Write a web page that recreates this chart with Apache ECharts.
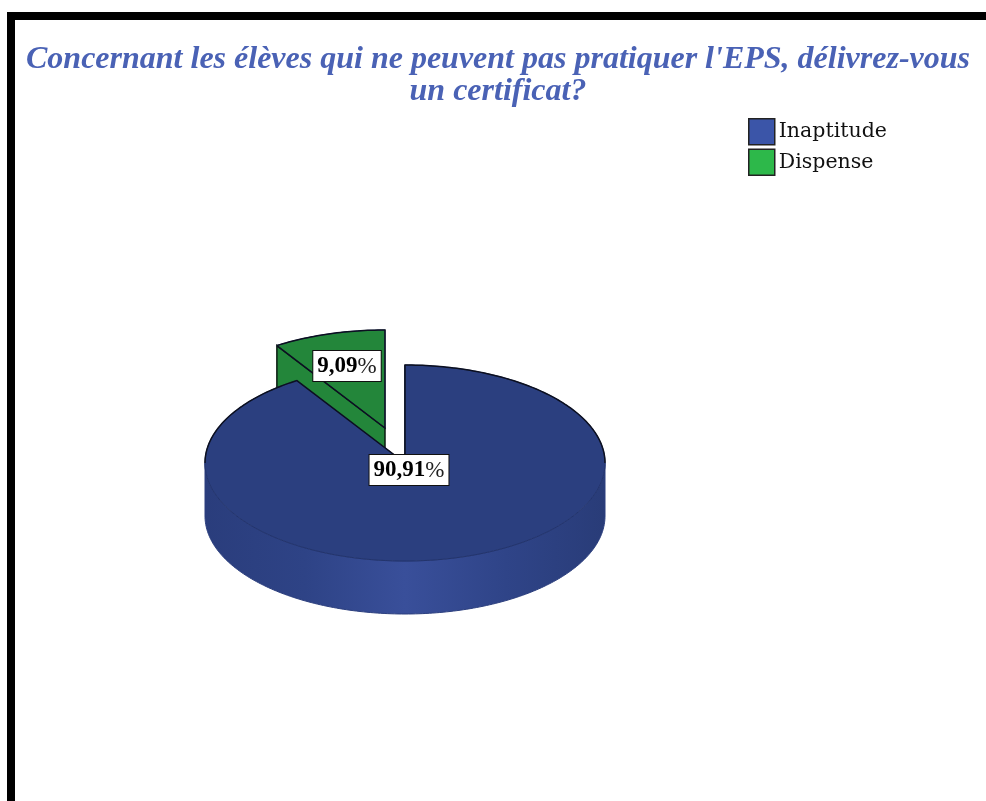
<!DOCTYPE html>
<html>
<head>
<meta charset="utf-8">
<title>Certificat EPS</title>
<script src="https://cdn.jsdelivr.net/npm/echarts@6/dist/echarts.min.js"></script>
<style>
	html, body { margin: 0; padding: 0; background: #fff; }
	#chart { width: 986px; height: 801px; }
</style>
</head>
<body>
<div id="chart"></div>
<script>
const titleLines = ["Concernant les élèves qui ne peuvent pas pratiquer l'EPS, délivrez-vous", "un certificat?"];
const categories = ["Inaptitude", "Dispense"];
const percents = [90.91, 9.09];

const legendColors = ["#3b55a8", "#2db84a"];
const topColors = ["#2b3f7f", "#23863a"];
// how far each slice is pulled out of the pie
const sliceShift = [[0, 0], [-20, -35]];
const labelPos = [[409, 470], [347, 366]];

const CX = 405, CY = 463, RX = 200, RY = 98, DEPTH = 53;
const SERIF = '"Liberation Serif", serif';

const total = percents.reduce((a, b) => a + b, 0);

// angle in degrees, clockwise from 12 o'clock
function pt(deg, sx, sy, drop) {
	const r = deg * Math.PI / 180;
	return [CX + sx + RX * Math.sin(r), CY + sy - RY * Math.cos(r) + (drop || 0)];
}

function arc(from, to, sx, sy, drop) {
	const pts = [];
	const steps = Math.max(2, Math.ceil(Math.abs(to - from)));
	for (let i = 0; i <= steps; i++) {
		pts.push(pt(from + (to - from) * i / steps, sx, sy, drop));
	}
	return pts;
}

function renderSlice(idx) {
	return function (params, api) {
		const val = api.value(0);
		let before = 0;
		for (let i = 0; i < idx; i++) before += percents[i];
		const start = before / total * 360;
		const end = start + val / total * 360;
		const [sx, sy] = sliceShift[idx];
		const apex = [CX + sx, CY + sy];
		const children = [];

		// outer wall, only the front half can be seen
		const f0 = Math.max(start, 90), f1 = Math.min(end, 270);
		if (f1 > f0) {
			children.push({
				type: "polygon",
				shape: { points: arc(f0, f1, sx, sy, 0).concat(arc(f1, f0, sx, sy, DEPTH)) },
				style: {
					fill: new echarts.graphic.LinearGradient(0, 0, 1, 0, [
						{ offset: 0, color: "#2a3d7c" },
						{ offset: 0.25, color: "#2e4386" },
						{ offset: 0.5, color: "#394f9a" },
						{ offset: 0.75, color: "#2f4488" },
						{ offset: 1, color: "#293c78" },
					]),
					stroke: "#2c3f7e",
					lineWidth: 1,
				},
			});
		}
		// cut face at the start edge
		const edge = pt(start, sx, sy, 0);
		children.push({
			type: "polygon",
			shape: { points: [apex, edge, [edge[0], edge[1] + DEPTH], [apex[0], apex[1] + DEPTH]] },
			style: { fill: topColors[idx], stroke: "#0a1a10", lineWidth: 1.5 },
		});
		// top face, the front rim is faint
		children.push({
			type: "polygon",
			shape: { points: [apex].concat(arc(start, end, sx, sy, 0)) },
			style: { fill: topColors[idx], stroke: "#23346c", lineWidth: 1 },
		});
		// dark outline on the back rim and the cut edges
		const back = arc(Math.max(270, start), end, sx, sy, 0).concat([apex]);
		children.push({
			type: "polyline",
			shape: { points: back.concat(start < 90 ? arc(start, 90, sx, sy, 0) : [edge]) },
			style: { fill: null, stroke: "#0c1020", lineWidth: 1.5 },
		});
		// value label
		children.push({
			type: "text",
			z2: 10,
			x: labelPos[idx][0],
			y: labelPos[idx][1],
			style: {
				text: "{b|" + val.toFixed(2).replace(".", ",") + "}{n|%}",
				align: "center",
				verticalAlign: "middle",
				backgroundColor: "#fff",
				borderColor: "#111",
				borderWidth: 1,
				padding: [4, 4, 3, 4],
				rich: {
					b: { font: "bold 23px " + SERIF, fill: "#000" },
					n: { font: "23px " + SERIF, fill: "#222" },
				},
			},
		});
		return { type: "group", children };
	};
}

const chart = echarts.init(document.getElementById("chart"), null, { renderer: "canvas" });
chart.setOption({
	animation: false,
	backgroundColor: "#fff",
	title: {
		text: titleLines.join("\n"),
		left: 493,
		top: 39,
		textAlign: "center",
		textStyle: {
			fontFamily: SERIF,
			fontStyle: "italic",
			fontWeight: "bold",
			fontSize: 32,
			lineHeight: 32,
			color: "#4a62b5",
		},
	},
	legend: {
		data: categories,
		orient: "vertical",
		left: 748,
		top: 118,
		padding: 0,
		itemWidth: 26,
		itemHeight: 26,
		itemGap: 3,
		icon: "rect",
		selectedMode: false,
		itemStyle: { borderColor: "#222", borderWidth: 1.5 },
		textStyle: { fontFamily: '"DejaVu Serif", serif', fontSize: 20.5, color: "#111", padding: [5, 0, 0, -1] },
	},
	graphic: [
		// black frame, runs off the right and bottom of the picture
		{ type: "rect", shape: { x: 7, y: 12, width: 979, height: 8 }, style: { fill: "#000" } },
		{ type: "rect", shape: { x: 7, y: 12, width: 8, height: 789 }, style: { fill: "#000" } },
	],
	series: categories.map((name, i) => ({
		type: "custom",
		name,
		z: 5 - i,
		coordinateSystem: "none",
		itemStyle: { color: legendColors[i] },
		renderItem: renderSlice(i),
		data: [[percents[i]]],
		silent: true,
	})),
});
</script>
</body>
</html>
